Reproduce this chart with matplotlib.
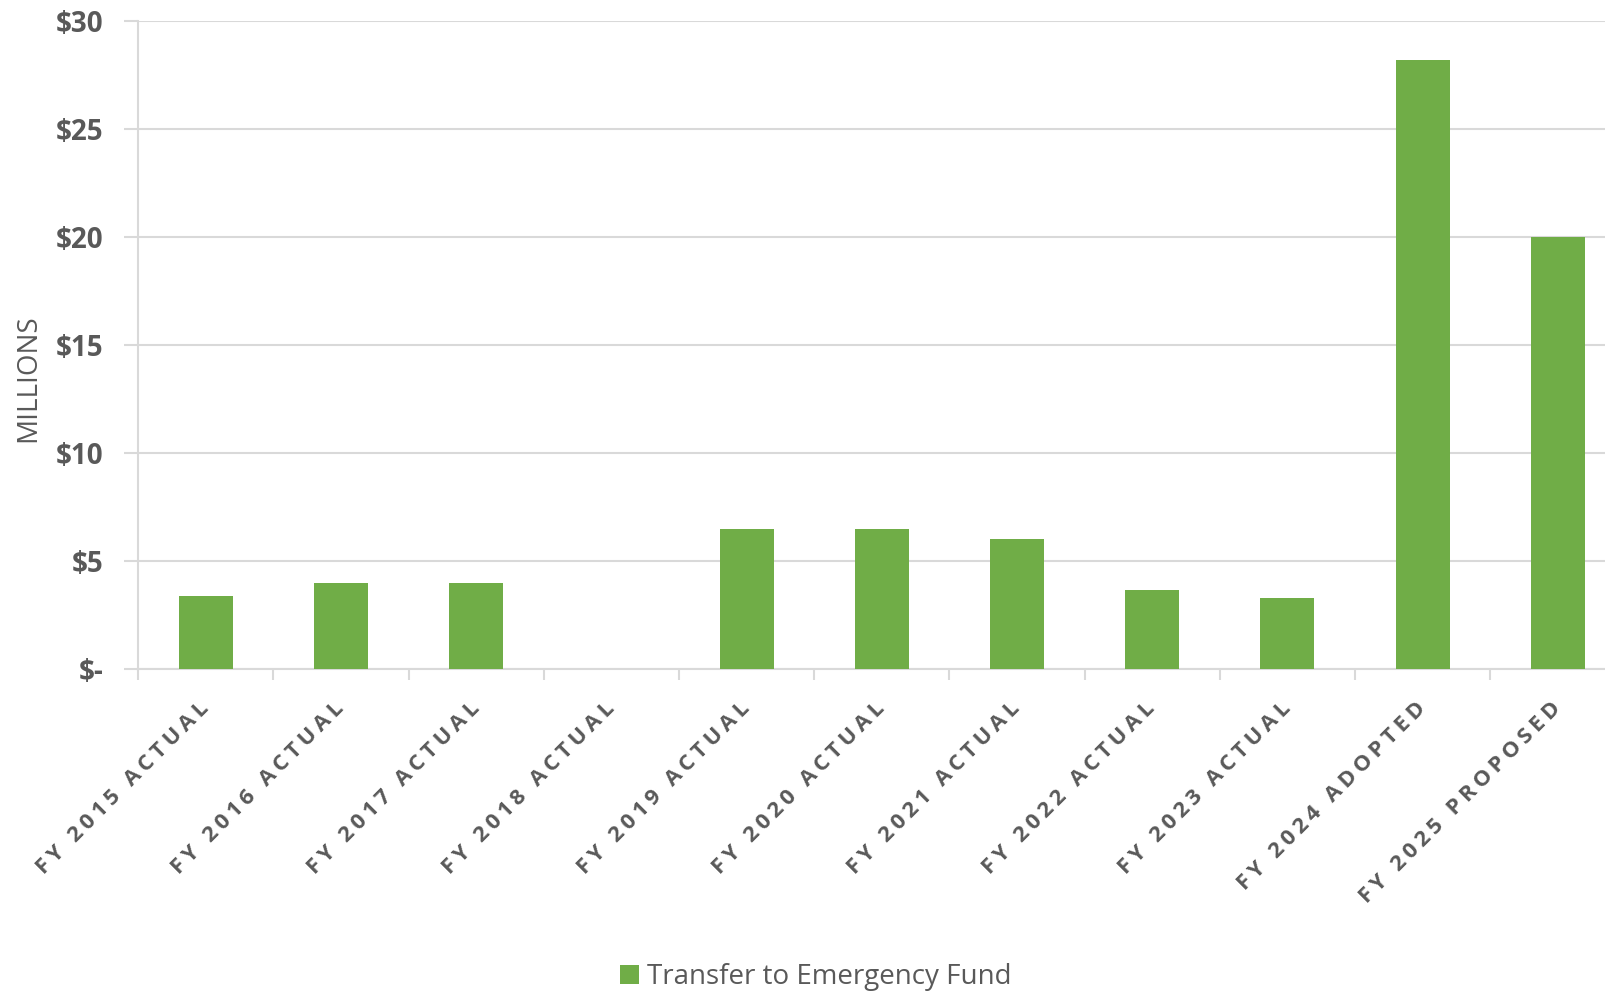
import matplotlib.pyplot as plt
import numpy as np

categories = ['FY 2015 ACTUAL', 'FY 2016 ACTUAL', 'FY 2017 ACTUAL', 'FY 2018 ACTUAL',
              'FY 2019 ACTUAL', 'FY 2020 ACTUAL', 'FY 2021 ACTUAL', 'FY 2022 ACTUAL',
              'FY 2023 ACTUAL', 'FY 2024 ADOPTED', 'FY 2025 PROPOSED']
transfer = [3.4, 4.0, 4.0, 0.0, 6.5, 6.5, 6.0, 3.65, 3.27, 28.2, 20.0]
y_ticks = [0, 5, 10, 15, 20, 25, 30]
y_labels = ['$-', '$5', '$10', '$15', '$20', '$25', '$30']

plt.rcParams['font.family'] = ['Open Sans', 'DejaVu Sans']
grey = '#595959'
green = '#70AD47'
line = '#D9D9D9'

fig = plt.figure(figsize=(16.06, 9.94), dpi=100)
ax = fig.add_axes([0.0861, 0.327, 0.926, 0.652])

x = np.arange(len(categories))
ax.bar(x, transfer, width=0.4, color=green, zorder=3, label='Transfer to Emergency Fund')

ax.set_xlim(-0.5, len(categories) - 0.5)
ax.set_ylim(0, 30)
ax.set_yticks(y_ticks)
ax.set_yticklabels(y_labels, fontsize=20, fontweight='bold', color=grey)
ax.yaxis.grid(True, color=line, linewidth=1.5, zorder=0)
ax.tick_params(axis='y', length=10, color=line, width=1.5, pad=15)

# Excel spreads the letters of the category labels apart
spaced = ['\u2009'.join(c) for c in categories]
ax.set_xticks(x)
ax.set_xticklabels(spaced, rotation=45, ha='right', va='center', rotation_mode='anchor',
                   fontsize=16, fontweight='bold', color=grey)
ax.tick_params(axis='x', which='major', length=0, pad=26)
ax.set_xticks(np.arange(len(categories) + 1) - 0.5, minor=True)
ax.tick_params(axis='x', which='minor', length=8, color=line, width=1.5)

for s in ['top', 'right']:
    ax.spines[s].set_visible(False)
for s in ['left', 'bottom']:
    ax.spines[s].set_color(line)
    ax.spines[s].set_linewidth(1.5)

fig.text(0.0179, 0.62, 'MILLIONS', rotation=90, ha='center', va='center',
         fontsize=20, color=grey)

fig.legend(loc='center', bbox_to_anchor=(0.508, 0.017), frameon=False, fontsize=20,
           handlelength=0.7, handleheight=0.7, handletextpad=0.3, labelcolor=grey)

fig.savefig('out.png', dpi=100)
